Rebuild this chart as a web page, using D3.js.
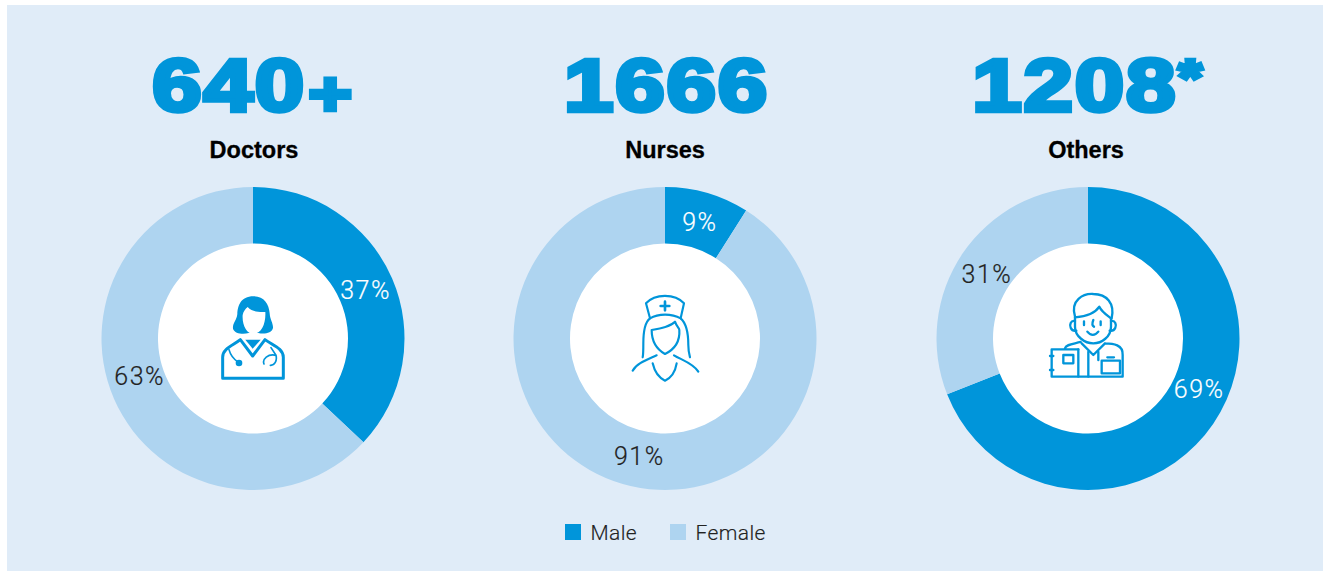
<!DOCTYPE html>
<html>
<head>
<meta charset="utf-8">
<script src="https://cdn.jsdelivr.net/npm/d3@7"></script>
<style>
	html, body { margin: 0; background: #fff; }
	svg { display: block; }
	text { font-family: "Liberation Sans", sans-serif; }
	.light { font-family: Roboto, sans-serif; font-weight: 300; }
	.icon * { fill: none; stroke: #0095DA; stroke-linecap: round; stroke-linejoin: round; }
	.icon .solid { fill: #0095DA; stroke: none; }
	.icon .white { fill: #fff; stroke: none; }
</style>
</head>
<body>
<svg id="chart" width="1324" height="571"></svg>
<script>
var windowW = 1324;
var windowH = 571;

// values
var groups = ["Doctors", "Nurses", "Others"];
var totals = ["640+", "1666", "1208*"];
var malePct = [37, 9, 69];
var femalePct = [63, 91, 31];
var legendLabels = ["Male", "Female"];

var maleColor = "#0095DA";
var femaleColor = "#AED4F0";
var panelColor = "#E0ECF8";

var centers = [253, 665, 1088];
var centerY = 338.5;
var outerR = 151.5;
var innerR = 95;
var labelR = 121;

// hand placed label angles, degrees clockwise from 12 o'clock
var maleLabelAngle = [66.6, 16, 115];
var femaleLabelAngle = [251.7, 193, 302];

// nudges to line the text up with the reference
var totalShift = [0, 1.5, 0];
var titleShift = [1, 0, -2];
var suffixStyle = { "+": { size: 62, dy: 4, dx: 2 }, "*": { size: 50, dy: -16, dx: 1 } };

// top left of each icon's drawing box, relative to the donut centre
var iconOrigin = [[-63, -68], [-55, -58], [-58, -58]];

var svg = d3.select("#chart");

svg.append("rect")
	.attr("x", 7).attr("y", 5)
	.attr("width", windowW - 8).attr("height", windowH - 5)
	.attr("fill", panelColor);

var color = d3.scaleOrdinal().domain(legendLabels).range([maleColor, femaleColor]);
var pie = d3.pie().sort(null).value(d => d.value);
var arc = d3.arc().innerRadius(innerR).outerRadius(outerR);

/////////// 
/////////// Icons
/////////// 

function drawDoctor(g) {
	g.append("path").attr("class", "solid")
		.attr("d", "M190 79C152 79 143 108 142 132C140 152 127 160 129 176C134 192 160 193 176 189L205 189C222 193 246 190 249 174C250 160 240 150 239 130C237 102 222 79 190 79Z");
	g.append("path").attr("class", "white")
		.attr("d", "M173 111C186 125 205 127 226 126C228 160 215 190 192 192C170 192 156 165 158 135C160 125 166 117 173 111Z");
	g.append("path").attr("stroke-width", 9)
		.attr("d", "M98 325L98 262C98 235 130 226 151 209L188 258L225 209C248 226 280 235 280 262L280 325Z");
	g.append("path").attr("class", "solid").attr("d", "M166 209L212 209L188 236Z");
	g.append("path").attr("stroke-width", 5)
		.attr("d", "M117 239C122 258 134 270 146 278M243 233L258 256C262 272 254 287 241 286M222 282C216 268 234 250 258 256");
	g.append("circle").attr("class", "solid").attr("cx", 147).attr("cy", 279).attr("r", 10);
}

function drawNurse(g) {
	var s = g.append("g").attr("stroke-width", 6.5);
	s.append("path").attr("d", "M108 70C135 40 195 40 222 70L212 115C185 100 145 100 120 115Z");
	s.append("path").attr("d", "M120 115C100 130 100 170 100 190C100 215 100 225 98 232M212 115C235 135 235 180 235 195C235 215 238 225 240 232");
	s.append("path").attr("d", "M125 150C155 145 180 140 195 125C200 140 208 145 208 150C210 180 200 205 165 222C135 205 125 180 125 150Z");
	s.append("path").attr("d", "M68 272C80 250 110 240 140 226M192 226C215 240 250 250 265 275");
	s.append("path").attr("d", "M128 250C135 280 150 295 165 302C180 295 195 280 200 250");
	s.append("path").attr("d", "M165 65L165 91M152 78L178 78").attr("stroke-width", 8);
}

function drawOther(g) {
	var s = g.append("g").attr("stroke-width", 7);
	s.append("path").attr("d", "M135 110C120 60 160 40 190 42C230 42 255 70 245 115");
	s.append("path").attr("d", "M135 112C170 110 195 100 208 80C215 95 230 105 243 115");
	s.append("path").attr("d", "M135 112L135 140C135 170 165 190 190 190C215 190 243 170 243 140L243 115");
	s.append("path").attr("d", "M135 123C122 120 118 135 122 143C126 152 134 153 139 152M243 123C256 120 260 135 256 143C252 152 244 153 239 152");
	s.append("path").attr("d", "M162 124L162 135M212 124L212 135M190 120C186 130 186 137 192 140M172 155C182 168 195 168 205 155");
	s.append("path").attr("d", "M105 205C108 192 130 192 152 186M155 190L190 225L225 190M225 190C250 190 280 195 278 225L278 290L65 290L65 208L145 208");
	s.append("path").attr("d", "M145 208L145 290M175 215L175 290M205 215L205 240");
	s.append("rect").attr("x", 100).attr("y", 225).attr("width", 30).attr("height", 25);
	s.append("rect").attr("x", 215).attr("y", 242).attr("width", 55).attr("height", 38);
	s.append("path").attr("d", "M232 232L252 232M60 228L70 228M60 270L70 270");
}

var iconDrawers = [drawDoctor, drawNurse, drawOther];

/////////// 
/////////// Donuts
/////////// 

groups.forEach(function(name, i) {

	var data = [
		{ key: "Male", value: malePct[i], angle: maleLabelAngle[i], textColor: "#fff" },
		{ key: "Female", value: femalePct[i], angle: femaleLabelAngle[i], textColor: "#222" }
	];

	var g = svg.append("g").attr("transform", "translate(" + centers[i] + "," + centerY + ")");

	g.append("circle").attr("r", innerR + 1).attr("fill", "#fff");

	g.selectAll("path.slice")
		.data(pie(data))
		.join("path")
		.attr("class", "slice")
		.attr("d", arc)
		.attr("fill", d => color(d.data.key));

	g.selectAll("text.pct")
		.data(data)
		.join("text")
		.attr("class", "pct light")
		.attr("x", d => labelR * Math.sin(d.angle * Math.PI / 180) + 1.5)
		.attr("y", d => -labelR * Math.cos(d.angle * Math.PI / 180) + 8.5)
		.attr("text-anchor", "middle")
		.attr("font-size", 25)
		.attr("letter-spacing", 1.5)
		.attr("fill", d => d.textColor)
		.attr("stroke", d => d.textColor)
		.attr("stroke-width", 0.2)
		.text(d => d.value + "%");

	// big total, stretched and thickened to get the black weight
	var total = svg.append("text")
		.attr("transform", "translate(" + (centers[i] + totalShift[i]) + ",111) scale(1.2,1)")
		.attr("text-anchor", "middle")
		.attr("font-size", 74)
		.attr("font-weight", 700)
		.attr("letter-spacing", 1.6)
		.attr("fill", maleColor)
		.attr("stroke", maleColor)
		.attr("stroke-width", 4.5)
		.attr("stroke-linejoin", "miter");

	var digits = totals[i].replace(/\D/g, "");
	var suffix = totals[i].replace(/\d/g, "");

	total.append("tspan").text(digits);

	if (suffix != "") {
		total.append("tspan")
			.attr("font-size", suffixStyle[suffix].size)
			.attr("dx", suffixStyle[suffix].dx)
			.attr("dy", suffixStyle[suffix].dy)
			.text(suffix);
	}

	svg.append("text")
		.attr("x", centers[i] + titleShift[i])
		.attr("y", 158)
		.attr("text-anchor", "middle")
		.attr("font-size", 23.5)
		.attr("font-weight", 700)
		.attr("fill", "#000")
		.attr("stroke", "#000")
		.attr("stroke-width", 0.3)
		.text(name);

	var icon = svg.append("g")
		.attr("class", "icon")
		.attr("transform", "translate(" + (centers[i] + iconOrigin[i][0]) + "," + (338 + iconOrigin[i][1]) + ") scale(0.3333)");

	iconDrawers[i](icon);
});

/////////// 
/////////// Legend
/////////// 

var legendX = d3.scaleOrdinal().domain(legendLabels).range([565, 670]);

var legend = svg.selectAll("g.legend")
	.data(legendLabels)
	.join("g")
	.attr("class", "legend")
	.attr("transform", d => "translate(" + legendX(d) + ",524)");

legend.append("rect")
	.attr("width", 16).attr("height", 16)
	.attr("fill", d => color(d));

legend.append("text")
	.attr("class", "light")
	.attr("x", 25.5).attr("y", 16)
	.attr("font-size", 21)
	.attr("letter-spacing", 0.4)
	.attr("fill", "#222")
	.attr("stroke", "#222")
	.attr("stroke-width", 0.15)
	.text(d => d);
</script>
</body>
</html>
